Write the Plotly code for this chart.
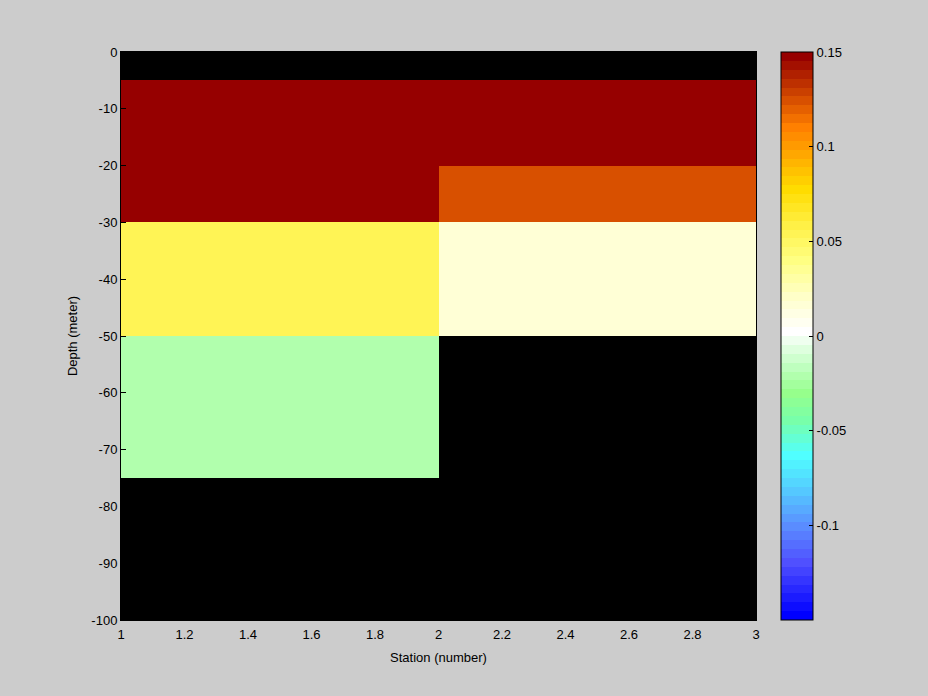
import plotly.graph_objects as go
import numpy as np

# Data
station_edges = [1, 2, 3]
depth_edges = [-100, -75, -50, -30, -20, -5, 0]
# rows from bottom (-100..-75) to top (-5..0); columns: station 1-2, 2-3
values = [
    [None, None],
    [-0.021, None],
    [0.054, 0.016],
    [0.15, 0.124],
    [0.15, 0.15],
    [None, None],
]
x_ticks = [1, 1.2, 1.4, 1.6, 1.8, 2, 2.2, 2.4, 2.6, 2.8, 3]
x_labels = ["1", "1.2", "1.4", "1.6", "1.8", "2", "2.2", "2.4", "2.6", "2.8", "3"]
y_ticks = [0, -10, -20, -30, -40, -50, -60, -70, -80, -90, -100]
y_labels = ["0", "-10", "-20", "-30", "-40", "-50", "-60", "-70", "-80", "-90", "-100"]
cb_ticks = [0.15, 0.1, 0.05, 0, -0.05, -0.1]
cb_labels = ["0.15", "0.1", "0.05", "0", "-0.05", "-0.1"]

# Colormap (64 discrete levels)
anchors = {
    0: (0, 0, 255), 6: (80, 80, 255), 10: (90, 140, 255), 14: (85, 200, 255),
    18: (80, 255, 255), 22: (120, 255, 170), 25: (150, 255, 140), 28: (190, 255, 190),
    32: (255, 255, 255), 36: (255, 255, 200), 40: (255, 255, 130), 44: (255, 240, 70),
    48: (255, 220, 0), 55: (255, 128, 0), 63: (150, 0, 0),
}
keys = sorted(anchors)
cols = []
for i in range(64):
    c = [int(round(np.interp(i, keys, [anchors[k][j] for k in keys]))) for j in range(3)]
    cols.append(f"rgb({c[0]},{c[1]},{c[2]})")
cscale = []
for i, c in enumerate(cols):
    cscale.append([i / 64, c])
    cscale.append([(i + 1) / 64, c])

font = dict(family="Liberation Sans, Arial, sans-serif", size=13, color="black")

fig = go.Figure(go.Heatmap(
    x=station_edges, y=depth_edges, z=values,
    zmin=-0.15, zmax=0.15, colorscale=cscale, hoverongaps=False,
    colorbar=dict(
        x=(781 - 121) / 635, xanchor="left", xpad=0, ypad=0,
        y=0, yanchor="bottom", len=1,
        lenmode="fraction", thickness=32, thicknessmode="pixels",
        outlinecolor="black", outlinewidth=1,
        tickvals=cb_ticks, ticktext=cb_labels, ticks="inside", ticklen=4,
        tickcolor="black", tickfont=font,
    ),
))
fig.update_layout(
    width=928, height=696,
    margin=dict(l=121, r=172, t=52, b=76),
    paper_bgcolor="rgb(204,204,204)", plot_bgcolor="black",
    font=font,
)
fig.update_xaxes(range=[1, 3], tickvals=x_ticks, ticktext=x_labels, ticks="inside",
                 ticklen=5, tickcolor="black", showgrid=False, zeroline=False,
                 ticklabelstandoff=2,
                 title=dict(text="Station (number)", font=font, standoff=12),
                 showline=True, linecolor="black", mirror=True)
fig.update_yaxes(range=[-100, 0], tickvals=y_ticks, ticktext=y_labels, ticks="inside",
                 ticklen=5, tickcolor="black", showgrid=False, zeroline=False,
                 title=dict(text="Depth (meter)", font=font, standoff=10),
                 showline=True, linecolor="black", mirror=True)
fig.write_html("out.html", config={"displayModeBar": False},
               post_script="document.body.style.margin='0';document.body.style.background='rgb(204,204,204)';")
